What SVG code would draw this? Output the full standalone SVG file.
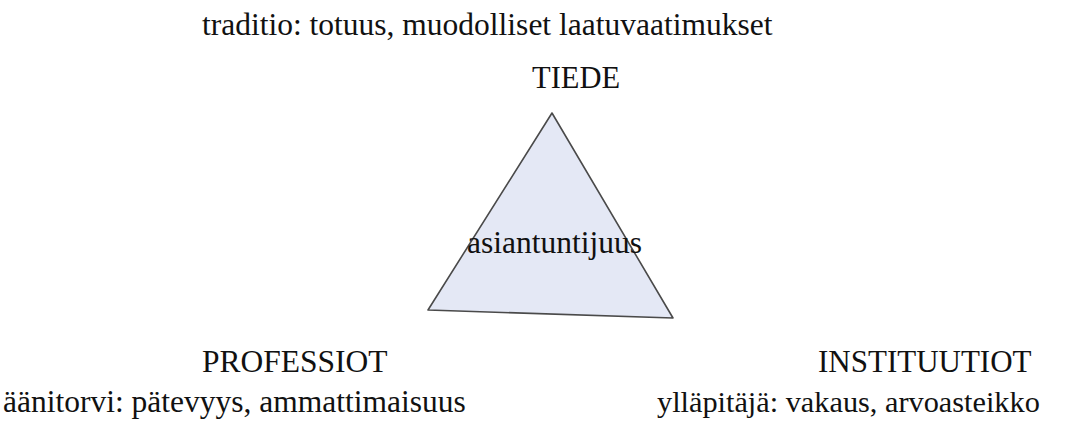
<svg xmlns="http://www.w3.org/2000/svg" width="1065" height="428" viewBox="0 0 1065 428">
<style>
text{font-family:"Liberation Serif","Times New Roman",serif;font-size:31.5px;fill:#111}
.tri{fill:#e4e8f5;stroke:#4a4a4a;stroke-width:1.6;stroke-linejoin:round}
</style>
<rect width="1065" height="428" fill="#fff"/>
<g id="triangle">
<path class="tri" d="M552,113 L428,310 L673,318 Z"/>
</g>
<g id="connectors"></g>
<g id="tiede"><text x="202" y="35">traditio: totuus, muodolliset laatuvaatimukset</text><text x="532" y="88" style="font-size:30.5px">TIEDE</text></g>
<g id="asiantuntijuus"><text x="467" y="253">asiantuntijuus</text></g>
<g id="professiot"><text x="202" y="372">PROFESSIOT</text><text x="3" y="412">äänitorvi: pätevyys, ammattimaisuus</text></g>
<g id="instituutiot"><text x="818" y="372" style="font-size:31px">INSTITUUTIOT</text><text x="657" y="412" style="font-size:30.3px">ylläpitäjä: vakaus, arvoasteikko</text></g>
</svg>
